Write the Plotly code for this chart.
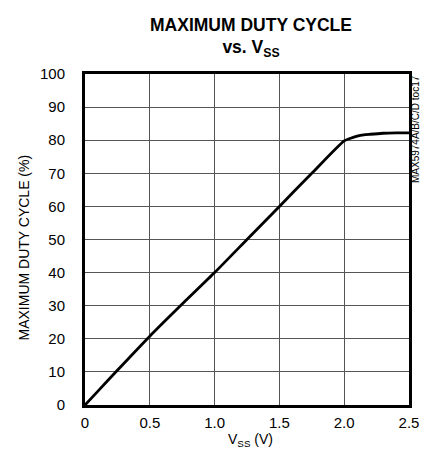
import plotly.graph_objects as go

vss = [0.0, 0.1, 0.25, 0.5, 0.75, 1.0, 1.25, 1.5, 1.75, 2.0, 2.05, 2.1, 2.15, 2.2, 2.3, 2.4, 2.5]
duty = [0.0, 4.2, 10.5, 20.8, 30.5, 40.0, 50.0, 60.0, 70.0, 79.8, 80.6, 81.2, 81.6, 81.8, 82.1, 82.2, 82.2]

x_ticks = [0, 0.5, 1.0, 1.5, 2.0, 2.5]
x_tick_labels = ["0", "0.5", "1.0", "1.5", "2.0", "2.5"]
y_ticks = list(range(0, 101, 10))

FONT = "Liberation Sans Narrow, Arial Narrow, Liberation Sans, Arial"

# page is offset by the 8px body margin; visible width ends near x=420
W, H = 412, 447
L, R, T, B = 77, 11, 66, 50

fig = go.Figure()
fig.add_trace(go.Scatter(x=vss, y=duty, mode="lines",
                         line=dict(color="black", width=2.8, shape="spline", smoothing=0.6), showlegend=False))

fig.update_layout(
    width=W, height=H,
    margin=dict(l=L, r=R, t=T, b=B),
    paper_bgcolor="white", plot_bgcolor="white",
    font=dict(family=FONT, color="black", size=15),
    title=dict(text="<b>MAXIMUM DUTY CYCLE<br>vs. V<sub>SS</sub></b>", x=243 / W, xanchor="center",
               y=1 - 22.5 / H, yanchor="middle", font=dict(family=FONT, size=17.5, color="black")),
    xaxis=dict(range=[0, 2.5], tickvals=x_ticks, ticktext=x_tick_labels, showgrid=True, gridcolor="#555", gridwidth=1,
               zeroline=False, showline=True, linecolor="black", linewidth=3, mirror=True, ticks="", automargin=False,
               ticklabelstandoff=2, ticklabeloverflow="allow", tickfont=dict(size=15)),
    yaxis=dict(range=[0, 100], tickvals=y_ticks, showgrid=True, gridcolor="#555", gridwidth=1, automargin=False,
               zeroline=False, showline=True, linecolor="black", linewidth=3, mirror=True, ticks="",
               ticklabelstandoff=14, ticklabeloverflow="allow", tickfont=dict(size=15)),
)
pw = W - L - R
# axis titles
fig.add_annotation(text="MAXIMUM DUTY CYCLE (%)", xref="paper", yref="paper", x=0, y=0.5, xanchor="center",
                   yanchor="middle", xshift=-(L - 15), yshift=-8, textangle=-90, showarrow=False,
                   font=dict(family=FONT, size=14, color="black"))
fig.add_annotation(text="V<sub>SS</sub> (V)", xref="paper", yref="paper", x=(242 - L) / pw, y=0, xanchor="center",
                   yanchor="middle", yshift=-35, showarrow=False, font=dict(family=FONT, size=14, color="black"))
fig.add_annotation(text="MAX5974A/B/C/D toc17", xref="paper", yref="paper", x=1.0, y=1.0, xanchor="center",
                   yanchor="top", xshift=6, textangle=-90, showarrow=False, borderpad=0,
                   font=dict(family=FONT, size=10, color="black"))
fig.write_html("out.html")
